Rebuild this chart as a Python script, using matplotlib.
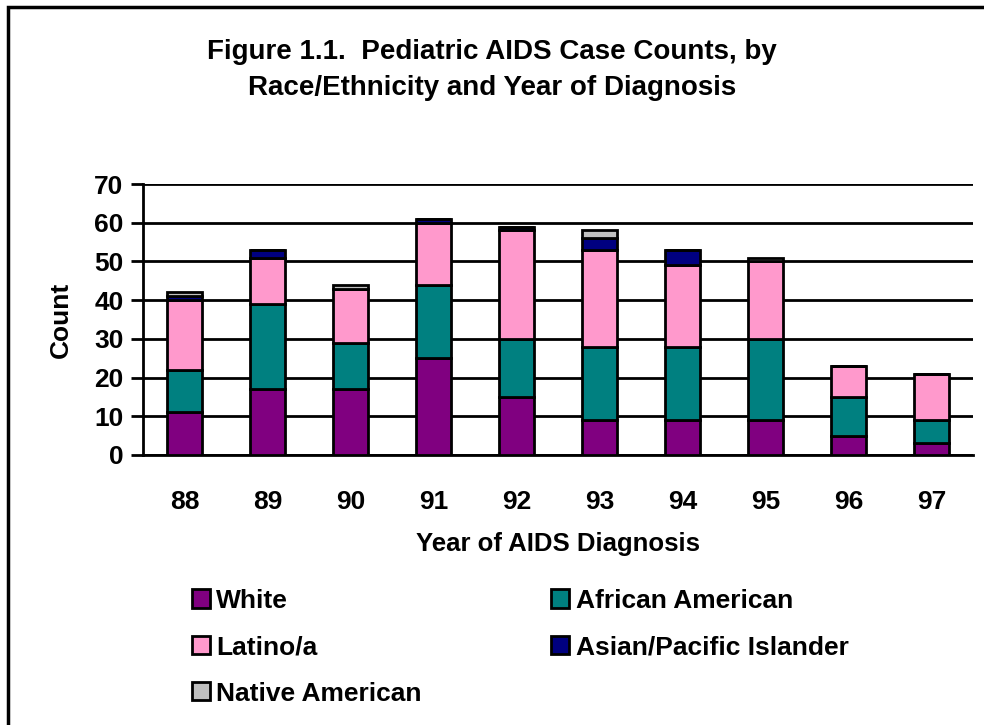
import numpy as np
import matplotlib
matplotlib.use("Agg")
import matplotlib.pyplot as plt
from matplotlib.patches import Rectangle

plt.rcParams["font.family"] = ["Liberation Sans", "DejaVu Sans"]
plt.rcParams["font.weight"] = "bold"

# ── data ──
years = ["88", "89", "90", "91", "92", "93", "94", "95", "96", "97"]
white = [11, 17, 17, 25, 15, 9, 9, 9, 5, 3]
african_american = [11, 22, 12, 19, 15, 19, 19, 21, 10, 6]
latino = [18, 12, 14, 16, 28, 25, 21, 20, 8, 12]
asian_pi = [1, 2, 0, 1, 1, 3, 4, 0, 0, 0]
native_am = [1, 0, 1, 0, 0, 2, 0, 1, 0, 0]

series = [
    ("White", white, "#800080"),
    ("African American", african_american, "#008080"),
    ("Latino/a", latino, "#FF99CC"),
    ("Asian/Pacific Islander", asian_pi, "#000080"),
    ("Native American", native_am, "#C0C0C0"),
]

fig = plt.figure(figsize=(9.84, 7.25), dpi=100)
ax = fig.add_axes([143 / 984, 1 - 455 / 725, 830 / 984, 271 / 725])

x = np.arange(len(years))
bottom = np.zeros(len(years))
handles = {}
for name, vals, col in series:
    vals = np.array(vals, dtype=float)
    bars = ax.bar(x, vals, 0.41, bottom=bottom, color=col, edgecolor="black",
                  linewidth=2, label=name, zorder=3)
    handles[name] = bars
    bottom += vals

ax.set_xlim(-0.5, len(years) - 0.5)
ax.set_ylim(0, 70)
ax.set_yticks(range(0, 71, 10))
ax.set_xticks(x)
ax.set_xticklabels(years)
ax.yaxis.grid(True, color="black", linewidth=2, zorder=0)
ax.set_axisbelow(True)
for side in ["top", "right"]:
    ax.spines[side].set_visible(False)
ax.spines["left"].set_linewidth(2)
ax.spines["bottom"].set_linewidth(2)
ax.tick_params(axis="y", length=9, width=2, labelsize=19, pad=5)
ax.tick_params(axis="x", length=0, labelsize=19, pad=25)
ax.set_ylabel("Count", fontsize=19, fontweight="bold", labelpad=15)
ax.set_xlabel("Year of AIDS Diagnosis", fontsize=18.5, fontweight="bold", labelpad=13)

fig.text(0.5, 1 - 70 / 725, "Figure 1.1.  Pediatric AIDS Case Counts, by\nRace/Ethnicity and Year of Diagnosis",
         ha="center", va="center", fontsize=20, fontweight="bold", linespacing=1.5)

# legend: column-wise order
order = ["White", "Latino/a", "Native American", "African American", "Asian/Pacific Islander"]
leg = fig.legend([handles[n] for n in order], order, ncol=2, loc="upper left",
                 bbox_to_anchor=(168 / 984, 1 - 565 / 725), frameon=False,
                 fontsize=19, handlelength=0.68, handleheight=0.68, handletextpad=0.25,
                 columnspacing=4.9, labelspacing=0.85)

# outer frame (cropped at right and bottom)
fig.patches.append(Rectangle((8 / 984, -0.1), 1.2, 1 - 7 / 725 + 0.1, transform=fig.transFigure,
                             fill=False, edgecolor="black", linewidth=2.5))

fig.savefig("out.png", dpi=100, facecolor="white")
